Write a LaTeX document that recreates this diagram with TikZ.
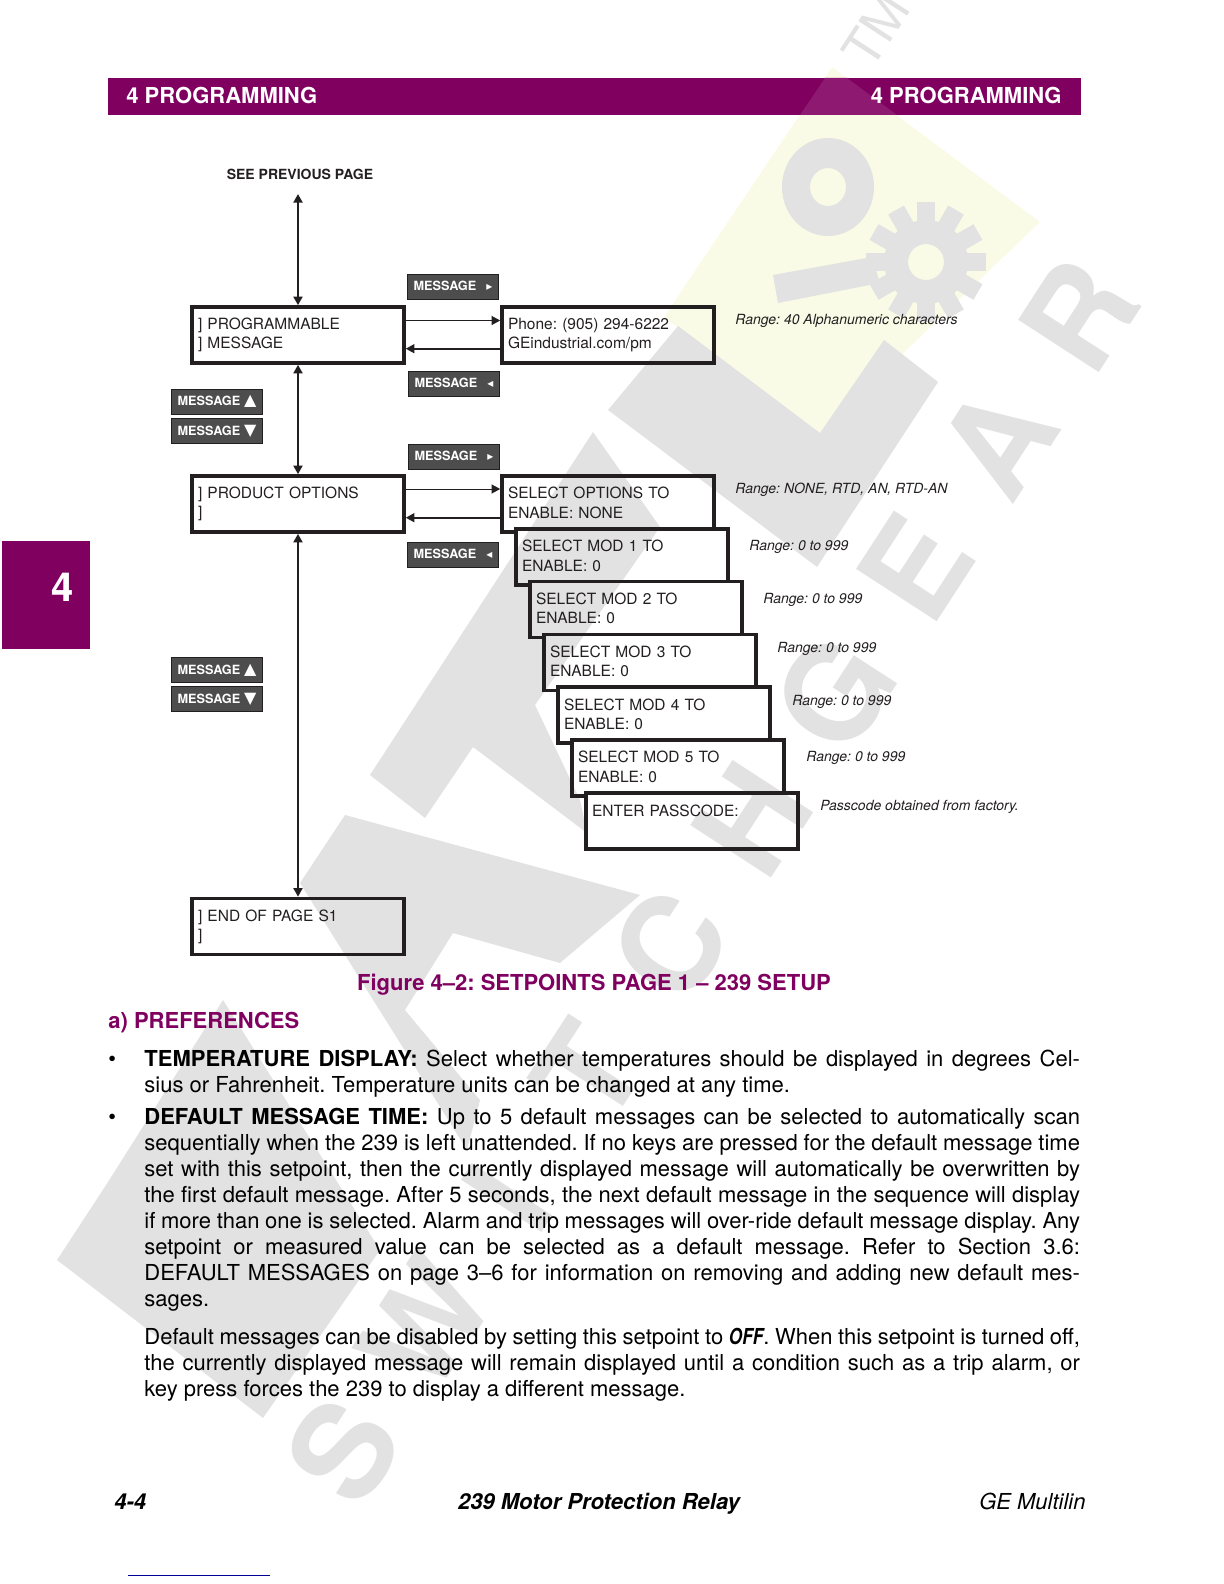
\documentclass[tikz,border=0pt]{standalone}
\usepackage{fontspec}
\setmainfont{TeX Gyre Heros}
\newfontfamily\symfont{DejaVu Sans}
\newfontfamily\offfont[FakeStretch=0.78]{TeX Gyre Heros}
\usetikzlibrary{arrows.meta}
\definecolor{gepurple}{HTML}{800060}
\definecolor{inkblack}{HTML}{231F20}
\definecolor{btngray}{HTML}{4D4D4D}
\definecolor{wmgray}{HTML}{E2E2E2}
\definecolor{wmyellow}{HTML}{FAFBE6}
\tikzstyle{menubox} = [rectangle, draw=inkblack, line width=1.8pt, text width=100pt, inner xsep=3pt, inner ysep=0pt, minimum height=28pt, align=left, text=inkblack, font=\fontsize{7.75}{9.65}\selectfont]
\tikzstyle{stackbox} = [menubox, draw=none, outer sep=0pt, text depth=10.8pt]
\tikzstyle{boxline} = [draw=inkblack, line width=1.8pt, line cap=rect]
\tikzstyle{msgbtn} = [rectangle, draw=inkblack, line width=0.4pt, fill=btngray, text=white, text width=39.5pt, inner xsep=3pt, inner ysep=0pt, minimum height=12.5pt, text depth=1pt, font=\fontsize{6.35}{7}\selectfont\bfseries]
\tikzstyle{rangenote} = [anchor=base west, inner sep=0pt, text=inkblack, font=\fontsize{7}{8}\selectfont\itshape]
\tikzstyle{bodytext} = [anchor=north west, inner sep=0pt, text width=467.8pt, align=justify, text=black, font=\fontsize{11}{13}\selectfont]
\tikzstyle{oneline} = [inner sep=0pt, font=\fontsize{11}{13}\selectfont\bfseries]
\tikzstyle{arrow} = [line width=1pt,<->,>={Triangle[length=4.3pt,width=4.5pt]},draw=inkblack]
\tikzstyle{thinarrow} = [line width=0.5pt,->,>={Triangle[length=4.3pt,width=4.5pt]},draw=inkblack]
\tikzstyle{backarrow} = [line width=0.8pt,->,>={Triangle[length=4.3pt,width=4.5pt]},draw=inkblack]
\tikzstyle{wmletter} = [inner sep=0pt, text=wmgray, rotate=57, font=\fontsize{66}{66}\selectfont\bfseries]
\newcommand{\firstline}{\rule{0pt}{10pt}}
\newcommand{\rarr}{\hfill{\symfont\fontsize{6}{7}\selectfont ▸}\hspace{3pt}}
\newcommand{\larr}{\hfill{\symfont\fontsize{6}{7}\selectfont ◂}\hspace{3pt}}
\newcommand{\uarr}{\hfill{\symfont\fontsize{8}{7}\selectfont ▲}}
\newcommand{\darr}{\hfill{\symfont\fontsize{8}{7}\selectfont ▼}}
\tolerance=9999
\frenchspacing
\begin{document}
\begin{tikzpicture}[node distance=84.5pt, x=0.5pt, y=-0.5pt]
\useasboundingbox (0,0) rectangle (1224,1584);
% watermark
\fill[wmyellow] (832,67)--(1040,222)--(820,433)--(664,317)--cycle;
\fill[wmgray] (608,410)--(678,326)--(820,433)--(884,340)--(938,382)--(817,567)--cycle;
\fill[wmgray] (593,432)--(660,527)--(535,705)--(580,800)--(587,833)--(473,747)--(425,818)--(370,775)--cycle;
\fill[wmgray] (345,815)--(640,895)--(560,963)--(453,933)--(405,1010)--(480,1100)--(467,1150)--(300,883)--cycle;
\fill[wmgray] (223,1000)--(108,1182)--(57,1260)--(263,1418)--(380,1250)--cycle;
\fill[wmgray, even odd rule] (828,187) ellipse [x radius=46, y radius=49] (828,187) ellipse [x radius=18, y radius=19];
\fill[wmgray] (773,275)--(872,257)--(880,283)--(778,303)--cycle;
\foreach \ang in {0,30,...,330}
  \fill[wmgray, rotate around={\ang:(926,262)}] (917,202) rectangle (935,225);
\fill[wmgray, even odd rule] (926,262) circle [radius=42] (926,262) circle [radius=18];
\foreach \ch/\px/\py in {S/343/1450,W/425/1324,I/507/1198,T/588/1072,C/670/945,H/752/819,G/834/693,E/915/567,A/997/441,R/1079/315}
  \node (wm\ch)[wmletter] at (\px,\py) {\ch};
\node (wmtm)[wmletter, font=\fontsize{26}{26}\selectfont] at (876,30) {TM};
% page furniture
\node (bar)[rectangle, fill=gepurple, minimum width=486.5pt, minimum height=18.5pt, inner sep=0pt] at (594.5,96.5) {};
\fill[gepurple!90!white] (825,78)--(847,78)--(897,115)--(800,115)--cycle;
\node (headl)[oneline, anchor=base west, text=white] at (126,104) {4 PROGRAMMING};
\node (headr)[oneline, anchor=base east, text=white] at (1062,104) {4 PROGRAMMING};
\node (tab)[rectangle, fill=gepurple, minimum width=44pt, minimum height=54pt, inner sep=0pt] at (46,595) {};
\node (tabnum)[inner sep=0pt, anchor=base, text=white, font=\fontsize{20}{20}\selectfont\bfseries] at (63,601) {4};
% menu
\coordinate (top) at (298,194);
\node (see)[inner sep=0pt, text=inkblack, font=\fontsize{7}{8}\selectfont\bfseries] at (300,174) {SEE PREVIOUS PAGE};
\node (prog)[menubox] at (298,335) {] PROGRAMMABLE\\] MESSAGE};
\node (prod)[menubox, below of=prog] {] PRODUCT OPTIONS\\]};
\node (endp)[menubox, below of=prod, yshift=-126.75pt] {] END OF PAGE S1\\]};
\node (phone)[menubox, right of=prog, xshift=70.5pt] {Phone: (905) 294-6222\\GEindustrial.com/pm};
\node (opts)[stackbox, right of=prod, xshift=70.5pt] {SELECT OPTIONS TO\\ENABLE: NONE};
\node (mod1)[stackbox, node distance=26.4pt, below of=opts, xshift=7pt] {SELECT MOD 1 TO\\ENABLE: 0};
\node (mod2)[stackbox, node distance=26.4pt, below of=mod1, xshift=7pt] {SELECT MOD 2 TO\\ENABLE: 0};
\node (mod3)[stackbox, node distance=26.4pt, below of=mod2, xshift=7pt] {SELECT MOD 3 TO\\ENABLE: 0};
\node (mod4)[stackbox, node distance=26.4pt, below of=mod3, xshift=7pt] {SELECT MOD 4 TO\\ENABLE: 0};
\node (mod5)[stackbox, node distance=26.4pt, below of=mod4, xshift=7pt] {SELECT MOD 5 TO\\ENABLE: 0};
\node (pass)[menubox, node distance=26.6pt, below of=mod5, xshift=7pt, text depth=10.8pt] {ENTER PASSCODE:\\~};
\foreach \cur/\nxt in {opts/mod1,mod1/mod2,mod2/mod3,mod3/mod4,mod4/mod5,mod5/pass}
  \draw [boxline](\cur.south -| \nxt.west)--(\cur.south west)--(\cur.north west)--(\cur.north east)--(\cur.east |- \nxt.north);
\draw [arrow](prog)--(top);
\draw [arrow](prog)--(prod);
\draw [arrow](prod)--(endp);
\draw [thinarrow]([yshift=7.25pt]prog.east)--([yshift=7.25pt]phone.west);
\draw [backarrow]([yshift=-6.85pt]phone.west)--([yshift=-6.85pt]prog.east);
\draw [thinarrow]([yshift=7.5pt]prod.east)--([yshift=7.5pt,xshift=-0.9pt]opts.west);
\draw [backarrow]([yshift=-6.85pt,xshift=-0.9pt]opts.west)--([yshift=-6.85pt]prod.east);
% keys
\node (keyr1)[msgbtn] at (453,287) {MESSAGE\rarr};
\node (keyl1)[msgbtn] at (454,384) {MESSAGE\larr};
\node (keyr2)[msgbtn] at (454,456.5) {MESSAGE\rarr};
\node (keyl2)[msgbtn] at (453,555) {MESSAGE\larr};
\node (keyu1)[msgbtn] at (217,401.5) {MESSAGE\uarr};
\node (keyd1)[msgbtn] at (217,431) {MESSAGE\darr};
\node (keyu2)[msgbtn] at (217,670) {MESSAGE\uarr};
\node (keyd2)[msgbtn] at (217,699) {MESSAGE\darr};
% ranges
\node (rng0)[rangenote] at (735,324) {Range: 40 Alphanumeric characters};
\node (rng1)[rangenote] at (735,493) {Range: NONE, RTD, AN, RTD-AN};
\node (rng2)[rangenote] at (749,550) {Range: 0 to 999};
\node (rng3)[rangenote] at (763,603) {Range: 0 to 999};
\node (rng4)[rangenote] at (777,652) {Range: 0 to 999};
\node (rng5)[rangenote] at (792,705) {Range: 0 to 999};
\node (rng6)[rangenote] at (806,761) {Range: 0 to 999};
\node (rng7)[rangenote] at (820,810) {Passcode obtained from factory.};
% text below the figure
\node (cap)[oneline, anchor=base, text=gepurple] at (594,990) {Figure 4--2: SETPOINTS PAGE 1 -- 239 SETUP};
\node (sect)[oneline, anchor=base west, text=gepurple] at (108,1028) {a) PREFERENCES};
\node (bul1)[inner sep=0pt, anchor=base west, font=\fontsize{11}{13}\selectfont] at (108,1066) {•};
\node (bul2)[inner sep=0pt, anchor=base west, font=\fontsize{11}{13}\selectfont] at (108,1124) {•};
\node (par1)[bodytext] at (144,1046) {\firstline\textbf{TEMPERATURE DISPLAY:} Select whether temperatures should be displayed in degrees Cel-\linebreak sius or Fahrenheit. Temperature units can be changed at any time.};
\node (par2)[bodytext] at (144,1104) {\firstline\textbf{DEFAULT MESSAGE TIME:} Up to 5 default messages can be selected to automatically scan\linebreak sequentially when the 239 is left unattended. If no keys are pressed for the default message time\linebreak set with this setpoint, then the currently displayed message will automatically be overwritten by\linebreak the first default message. After 5 seconds, the next default message in the sequence will display\linebreak if more than one is selected. Alarm and trip messages will over-ride default message display. Any\linebreak setpoint or measured value can be selected as a default message. Refer to Section 3.6:\linebreak DEFAULT MESSAGES on page 3--6 for information on removing and adding new default mes-\linebreak sages.};
\node (par3)[bodytext] at (144,1324) {\firstline Default messages can be disabled by setting this setpoint to {\offfont\bfseries\itshape OFF}. When this setpoint is turned off,\linebreak the currently displayed message will remain displayed until a condition such as a trip alarm, or\linebreak key press forces the 239 to display a different message.};
\node (foot1)[oneline, anchor=base west, font=\fontsize{11}{13}\selectfont\bfseries\itshape] at (114,1509) {4-4};
\node (foot2)[oneline, anchor=base, font=\fontsize{11}{13}\selectfont\bfseries\itshape] at (599,1509) {239 Motor Protection Relay};
\node (foot3)[oneline, anchor=base east, font=\fontsize{11}{13}\selectfont\itshape\mdseries] at (1086,1509) {GE Multilin};
\coordinate (rulea) at (128,1575);
\coordinate (ruleb) at (270,1575);
\draw [line width=0.5pt, draw=blue!60!black](rulea)--(ruleb);
\end{tikzpicture}
\end{document}
